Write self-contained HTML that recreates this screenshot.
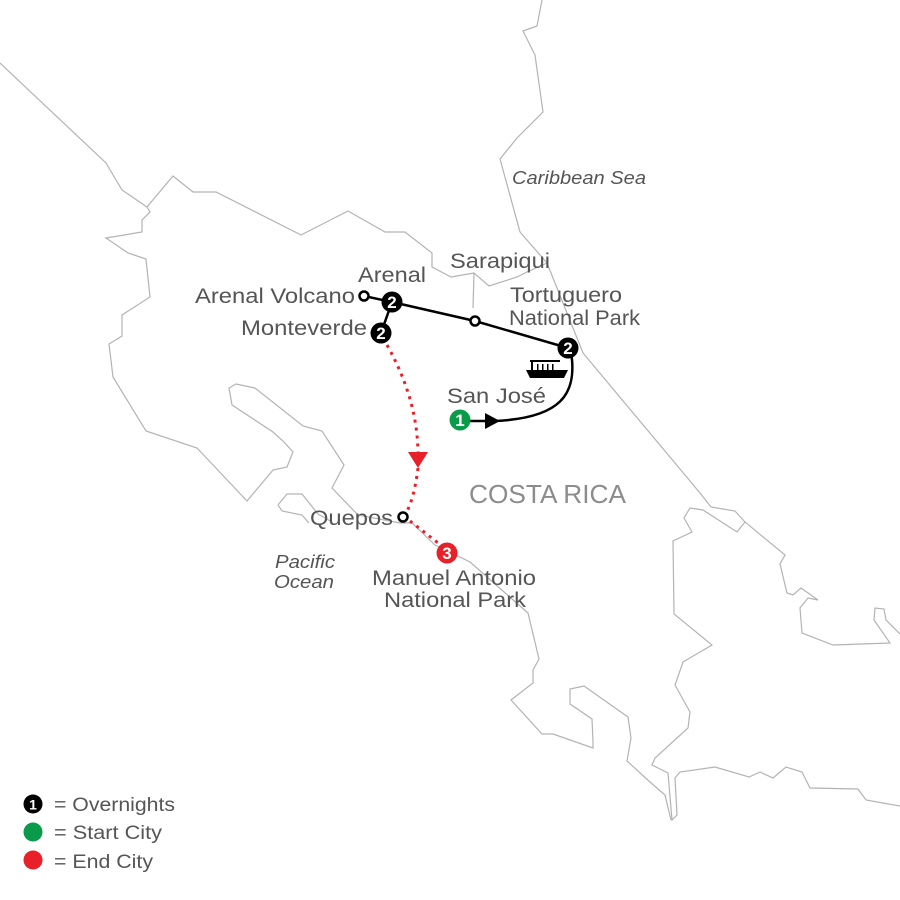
<!DOCTYPE html>
<html><head><meta charset="utf-8"><style>
html,body{margin:0;padding:0;background:#fff}
svg{display:block}
text{font-family:"Liberation Sans",Arial,sans-serif}
</style></head><body>
<svg width="900" height="900" viewBox="0 0 900 900" xmlns="http://www.w3.org/2000/svg">
<g fill="none" stroke="#b3b3b3" stroke-width="1.2">
<polyline points="0,63 106,163 122,190 147,207 150,212 142,220 142,232 106,238 128,253 146,259 150,297 122,315 122,336 109,344 113,377 146,431 197,448 247,501 273,470 287,467 293,452 283,441 273,432 232,405 229,388 236,384 255,388 303,426 322,431 344,465 332,488 358,515 400,523 412,523 435,545 470,562 528,613 539,659 533,670 533,683 511,700 542,734 553,734 593,748 593,742 592,719 570,704 570,689 584,686 628,717 631,738 627,761 650,782 665,795 671,820"/>
<polyline points="147,207 173,176 193,192 216,192 301,235 348,211 385,232 405,232 432,253 432,267 451,277 474,273 489,286 517,277 527,272 547,263"/>
<polyline points="474,273 473,308"/>
<polyline points="278,505 287,494 302,494 318,514 332,522"/>
<polyline points="278,505 282,511 302,515 309,523"/>
<polyline points="542,0 537,26 523,31 535,55 543,112 517,138 500,159 520,232 547,263 583,353 700,493 711,507 735,511 745,522 785,555 780,564 787,593 793,595 801,588 818,600 808,598 800,608 802,633 833,645 890,643 874,620 875,608 884,609 886,620 900,634"/>
<polyline points="745,522 737,532 703,510 690,508 684,518 692,532 673,541 674,614 712,645 683,662 675,685 690,712 688,728 655,758 652,765 668,773 672,820 677,815 675,778 680,772 715,767 749,777 760,772 773,778 786,767 802,772 810,788 858,789 866,800 900,806"/>
</g>
<path d="M387,345 Q418,400 418,455" fill="none" stroke="#e8202a" stroke-width="3" stroke-dasharray="3,5"/>
<polygon points="408,452 428,452 418,468" fill="#e8202a"/>
<path d="M418,468 Q414,500 405,515" fill="none" stroke="#e8202a" stroke-width="3" stroke-dasharray="3,5"/>
<path d="M410,521 L442,546" fill="none" stroke="#e8202a" stroke-width="3" stroke-dasharray="3,5"/>
<polyline points="364,296 392,302 475,321 568,348" fill="none" stroke="#000" stroke-width="2.5"/>
<line x1="392" y1="302" x2="381" y2="333" stroke="#000" stroke-width="2.5"/>
<path d="M571,352 C578,395 560,418 495,421 L465,421" fill="none" stroke="#000" stroke-width="2.5"/>
<polygon points="485,413 485,429 500,421" fill="#000"/>
<g fill="#000">
<rect x="530" y="360" width="30" height="2"/>
<rect x="531" y="362" width="2" height="8"/><rect x="537" y="364" width="1.5" height="6"/><rect x="542" y="364" width="1.5" height="6"/><rect x="547" y="364" width="1.5" height="6"/><rect x="552" y="364" width="1.5" height="6"/>
<path d="M526,370 L568,370 L564,378 L530,378 Z"/>
</g>
<circle cx="364" cy="296" r="4.5" fill="#fff" stroke="#000" stroke-width="2.5"/>
<circle cx="475" cy="321" r="4.5" fill="#fff" stroke="#000" stroke-width="2.5"/>
<circle cx="403" cy="517" r="4.5" fill="#fff" stroke="#000" stroke-width="2.5"/>
<g font-weight="bold" font-size="17" text-anchor="middle" fill="#fff">
<circle cx="392" cy="302" r="10.5" fill="#000"/><text x="392" y="308">2</text>
<circle cx="381" cy="333" r="10.5" fill="#000"/><text x="381" y="339">2</text>
<circle cx="568" cy="348" r="10.5" fill="#000"/><text x="568" y="354">2</text>
<circle cx="460" cy="420" r="10.5" fill="#0a9b4a"/><text x="460" y="426">1</text>
<circle cx="447" cy="553" r="10.5" fill="#e8202a"/><text x="447" y="559">3</text>
</g>
<g fill="#555" font-size="21">
<text x="358" y="282" textLength="68" lengthAdjust="spacingAndGlyphs">Arenal</text>
<text x="195" y="303" textLength="160" lengthAdjust="spacingAndGlyphs">Arenal Volcano</text>
<text x="241" y="335" textLength="126" lengthAdjust="spacingAndGlyphs">Monteverde</text>
<text x="450" y="268" textLength="100" lengthAdjust="spacingAndGlyphs">Sarapiqui</text>
<text x="510" y="302" textLength="112" lengthAdjust="spacingAndGlyphs">Tortuguero</text>
<text x="509" y="325" textLength="131" lengthAdjust="spacingAndGlyphs">National Park</text>
<text x="447" y="403" textLength="99" lengthAdjust="spacingAndGlyphs">San José</text>
<text x="310" y="525" textLength="83" lengthAdjust="spacingAndGlyphs">Quepos</text>
<text x="372" y="585" textLength="164" lengthAdjust="spacingAndGlyphs">Manuel Antonio</text>
<text x="384" y="607" textLength="142" lengthAdjust="spacingAndGlyphs">National Park</text>
<text x="469" y="503" font-size="26" fill="#8c8c8c" textLength="157" lengthAdjust="spacingAndGlyphs">COSTA RICA</text>
</g>
<g fill="#555" font-size="18" font-style="italic">
<text x="512" y="184" textLength="134" lengthAdjust="spacingAndGlyphs">Caribbean Sea</text>
<text x="275" y="568" textLength="60" lengthAdjust="spacingAndGlyphs">Pacific</text>
<text x="274" y="588" textLength="60" lengthAdjust="spacingAndGlyphs">Ocean</text>
</g>
<circle cx="33" cy="804" r="9.5" fill="#000"/><text x="33" y="809.5" fill="#fff" font-weight="bold" font-size="14" text-anchor="middle">1</text>
<circle cx="33" cy="832" r="9.5" fill="#0a9b4a"/>
<circle cx="33" cy="860" r="9.5" fill="#e8202a"/>
<g fill="#555" font-size="19">
<text x="54" y="811" textLength="121" lengthAdjust="spacingAndGlyphs">= Overnights</text>
<text x="54" y="839" textLength="108" lengthAdjust="spacingAndGlyphs">= Start City</text>
<text x="54" y="868" textLength="99" lengthAdjust="spacingAndGlyphs">= End City</text>
</g>
</svg>
</body></html>
